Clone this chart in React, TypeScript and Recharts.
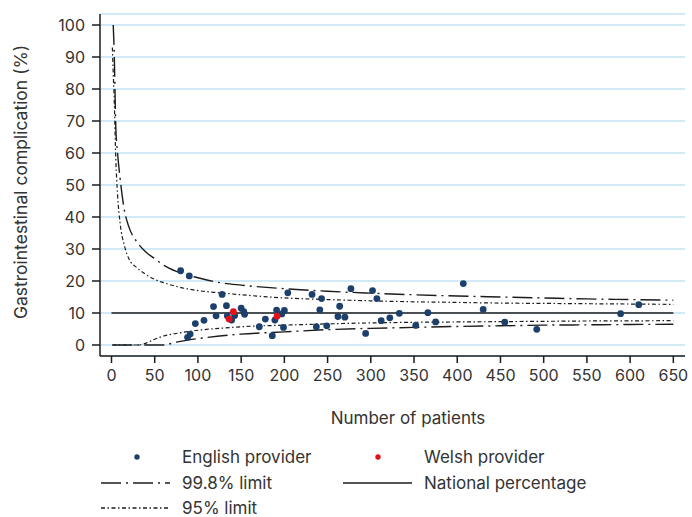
import React from "react"
import { ComposedChart, Line, Scatter, XAxis, YAxis, CartesianGrid, Label } from "recharts"

// axis ticks
const xTicks = [0, 50, 100, 150, 200, 250, 300, 350, 400, 450, 500, 550, 600, 650]
const yTicks = [0, 10, 20, 30, 40, 50, 60, 70, 80, 90, 100]

// national percentage, drawn from 0 to 650 patients
const nationalPct = 10
const nationalSpan = [0, 650]

// English providers (number of patients, % with complication)
const englishN = [
  80, 90, 128, 118, 133, 121, 134, 142.5, 139, 150, 153, 154, 107, 97, 91, 88,
  171, 178, 186, 191, 189, 197, 199, 200, 204, 232, 243, 277, 302, 307, 241, 264,
  262, 270, 237, 249, 294, 312, 322, 333, 407, 366, 430, 352, 375, 455, 492, 589, 610,
]
const englishPct = [
  23.2, 21.6, 15.8, 12.0, 12.3, 9.1, 9.1, 9.2, 7.8, 11.5, 10.4, 9.6, 7.7, 6.7, 3.4, 2.4,
  5.7, 8.1, 2.9, 10.9, 7.8, 9.7, 5.5, 10.8, 16.3, 15.8, 14.5, 17.6, 17.0, 14.5, 11.0, 12.1,
  8.9, 8.7, 5.7, 6.0, 3.6, 7.6, 8.5, 9.9, 19.2, 10.1, 11.1, 6.1, 7.2, 7.1, 4.9, 9.8, 12.6,
]

// Welsh providers
const welshN = [136, 141, 191.5]
const welshPct = [8.1, 10.4, 9.0]

// control limits
const limitN = [1, 2, 3, 5, 7, 10, 15, 20, 30, 40, 50, 60, 75, 100, 125, 150, 200, 250, 300, 350, 400, 450, 500, 550, 600, 650]
const upper998 = [null, 100, 93, 68, 60, 52, 42, 37, 32, 29, 27, 25, 23, 21, 19.5, 18.7, 17.6, 16.8, 16.2, 15.7, 15.3, 15.0, 14.7, 14.4, 14.2, 14.0]
const upper95 = [93, 85, 78, 58, 47, 38, 31, 27, 24, 22, 20.5, 19.5, 18.3, 17, 16.3, 15.7, 14.7, 14.2, 13.8, 13.5, 13.3, 13.1, 13.0, 12.9, 12.8, 12.7]
const lower95 = [0, 0, 0, 0, 0, 0, 0, 0, 0, 0.6, 1.8, 2.8, 3.6, 4.6, 5.2, 5.7, 6.2, 6.6, 6.9, 7.1, 7.2, 7.3, 7.4, 7.5, 7.55, 7.6]
const lower998 = [0, 0, 0, 0, 0, 0, 0, 0, 0, 0, 0, 0, 0.9, 2.0, 2.8, 3.4, 4.1, 4.8, 5.2, 5.5, 5.8, 6.0, 6.2, 6.3, 6.4, 6.5]

const englishData = englishN.map((n, i) => ({ n, pct: englishPct[i] }))
const welshData = welshN.map((n, i) => ({ n, pct: welshPct[i] }))
const toLine = (vals: (number | null)[]) => limitN.map((n, i) => ({ n, v: vals[i] }))
const nationalData = nationalSpan.map((n) => ({ n, v: nationalPct }))

const INK = "#1c1c1c"
const TEXT = "#333333"
const BLUE = "#1d3f6b"
const RED = "#e3101a"
const DASH_998 = "20 5 2 5"
const DASH_95 = "4 2.5 1.5 2.5"
const FONT = "Inter, 'Noto Sans', sans-serif"

const Dot = (color: string) => (props: any) => (
  <circle cx={props.cx} cy={props.cy} r={3.4} fill={color} />
)

const LegendLine = ({ dash }: { dash?: string }) => (
  <svg width={70} height={6} style={{ position: "absolute", left: 101, top: -3 }}>
    <line x1={0} y1={3} x2={69} y2={3} stroke={INK} strokeWidth={1.5} strokeDasharray={dash} />
  </svg>
)

export default function App() {
  const rowText: React.CSSProperties = { position: "absolute", fontSize: 17, color: TEXT, lineHeight: "16px", top: -8, whiteSpace: "nowrap" }
  return (
    <div style={{ position: "absolute", left: 0, top: 0, width: 692, height: 517, background: "#fff", fontFamily: FONT, overflow: "hidden" }}>
      <ComposedChart width={692} height={517} margin={{ top: 14, right: 7, left: 0, bottom: 131 }}>
        <CartesianGrid vertical={false} stroke="#c3e2f4" strokeWidth={1.5} />
        <XAxis
          type="number"
          dataKey="n"
          domain={[-13.3, 663.5]}
          ticks={xTicks}
          allowDataOverflow
          height={30}
          interval={0}
          tickSize={7}
          tickMargin={7}
          axisLine={{ stroke: INK, strokeWidth: 1.5 }}
          tickLine={{ stroke: INK, strokeWidth: 1.5 }}
          tick={{ fill: TEXT, fontSize: 16, fontFamily: FONT }}
        >
          <Label
            content={() => (
              <text x={408} y={424} textAnchor="middle" fill={TEXT} fontSize={17} fontFamily={FONT}>
                Number of patients
              </text>
            )}
          />
        </XAxis>
        <YAxis
          type="number"
          domain={[-3.44, 103.44]}
          ticks={yTicks}
          allowDataOverflow
          width={100}
          interval={0}
          tickSize={8}
          tickMargin={7}
          axisLine={{ stroke: INK, strokeWidth: 1.5 }}
          tickLine={{ stroke: INK, strokeWidth: 1.5 }}
          tick={{ fill: TEXT, fontSize: 16, fontFamily: FONT }}
        >
          <Label
            content={() => (
              <text
                x={20}
                y={182}
                transform="rotate(-90 20 182)"
                textAnchor="middle"
                dominantBaseline="central"
                fill={TEXT}
                fontSize={17.5}
                fontFamily={FONT}
              >
                Gastrointestinal complication (%)
              </text>
            )}
          />
        </YAxis>
        <Line data={nationalData} dataKey="v" type="linear" stroke={INK} strokeWidth={1.3} dot={false} isAnimationActive={false} />
        <Line data={toLine(upper998)} dataKey="v" type="monotone" stroke={INK} strokeWidth={1.4} strokeDasharray={DASH_998} dot={false} isAnimationActive={false} />
        <Line data={toLine(lower998)} dataKey="v" type="monotone" stroke={INK} strokeWidth={1.4} strokeDasharray={DASH_998} dot={false} isAnimationActive={false} />
        <Line data={toLine(upper95)} dataKey="v" type="monotone" stroke={INK} strokeWidth={1.2} strokeDasharray={DASH_95} dot={false} isAnimationActive={false} />
        <Line data={toLine(lower95)} dataKey="v" type="monotone" stroke={INK} strokeWidth={1.2} strokeDasharray={DASH_95} dot={false} isAnimationActive={false} />
        <Scatter data={englishData} dataKey="pct" fill={BLUE} shape={Dot(BLUE)} isAnimationActive={false} />
        <Scatter data={welshData} dataKey="pct" fill={RED} shape={Dot(RED)} isAnimationActive={false} />
      </ComposedChart>

      {/* legend */}
      <div style={{ position: "absolute", left: 0, top: 457, width: 692 }}>
        <svg width={8} height={8} style={{ position: "absolute", left: 133, top: -4 }}>
          <circle cx={4} cy={4} r={2.7} fill={BLUE} />
        </svg>
        <span style={{ ...rowText, left: 182 }}>English provider</span>
        <svg width={8} height={8} style={{ position: "absolute", left: 374, top: -4 }}>
          <circle cx={4} cy={4} r={2.7} fill={RED} />
        </svg>
        <span style={{ ...rowText, left: 424 }}>Welsh provider</span>
      </div>
      <div style={{ position: "absolute", left: 0, top: 483, width: 692 }}>
        <LegendLine dash={DASH_998} />
        <span style={{ ...rowText, left: 182 }}>99.8% limit</span>
        <svg width={70} height={6} style={{ position: "absolute", left: 343, top: -3 }}>
          <line x1={0} y1={3} x2={69} y2={3} stroke={INK} strokeWidth={1.5} />
        </svg>
        <span style={{ ...rowText, left: 424 }}>National percentage</span>
      </div>
      <div style={{ position: "absolute", left: 0, top: 508, width: 692 }}>
        <LegendLine dash={DASH_95} />
        <span style={{ ...rowText, left: 182 }}>95% limit</span>
      </div>
    </div>
  )
}
